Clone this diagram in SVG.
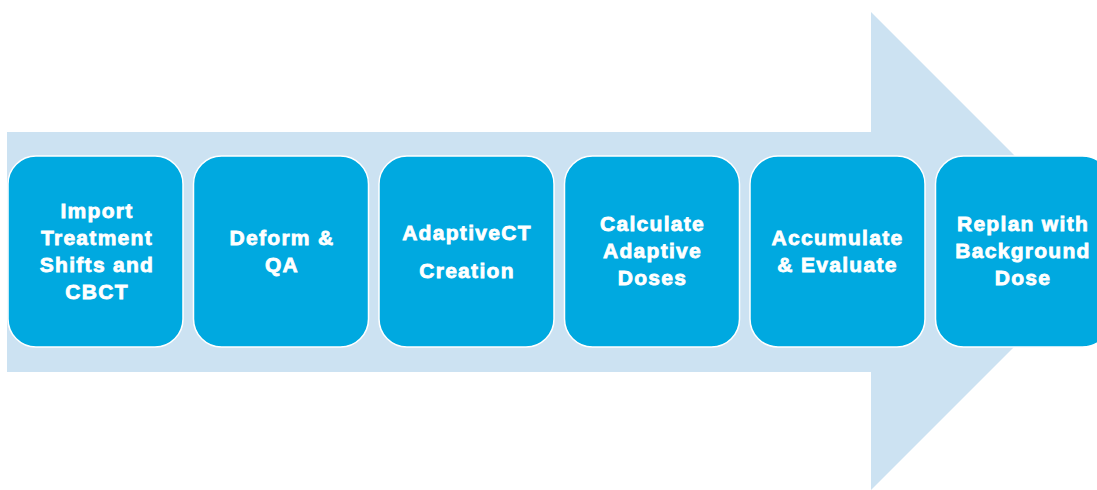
<svg xmlns="http://www.w3.org/2000/svg" width="1097" height="490" viewBox="0 0 1097 490">
<style>
.box{fill:#00A9E0;stroke:#FFFFFF;stroke-width:1.5}
.t{font-family:"Liberation Sans",Arial,sans-serif;font-weight:bold;font-size:21px;fill:#FFFFFF;stroke:#FFFFFF;stroke-width:0.8;text-anchor:middle;letter-spacing:1.3px}
</style>
<rect width="1097" height="490" fill="#FFFFFF"/>
<g id="arrow">
<polygon points="7,132 871,132 871,12 1110,251 871,490 871,372 7,372" fill="#CCE2F2"/>
</g>
<g id="connectors"></g>
<g id="n1"><rect class="box" x="8" y="156" width="175" height="191" rx="28"/>
<text class="t" x="97" y="218">Import</text><text class="t" x="97" y="245">Treatment</text><text class="t" x="97" y="272">Shifts and</text><text class="t" x="97" y="299">CBCT</text></g>
<g id="n2"><rect class="box" x="193.5" y="156" width="175" height="191" rx="28"/>
<text class="t" x="282" y="245">Deform &amp;</text><text class="t" x="282" y="272">QA</text></g>
<g id="n3"><rect class="box" x="379" y="156" width="175" height="191" rx="28"/>
<text class="t" x="467" y="240">AdaptiveCT</text><text class="t" x="467" y="278">Creation</text></g>
<g id="n4"><rect class="box" x="564.5" y="156" width="175" height="191" rx="28"/>
<text class="t" x="652.5" y="231">Calculate</text><text class="t" x="652.5" y="258">Adaptive</text><text class="t" x="652.5" y="285">Doses</text></g>
<g id="n5"><rect class="box" x="750" y="156" width="175" height="191" rx="28"/>
<text class="t" x="837.5" y="245">Accumulate</text><text class="t" x="837.5" y="272">&amp; Evaluate</text></g>
<g id="n6"><rect class="box" x="935.5" y="156" width="175" height="191" rx="28"/>
<text class="t" x="1023" y="231">Replan with</text><text class="t" x="1023" y="258">Background</text><text class="t" x="1023" y="285">Dose</text></g>
</svg>
